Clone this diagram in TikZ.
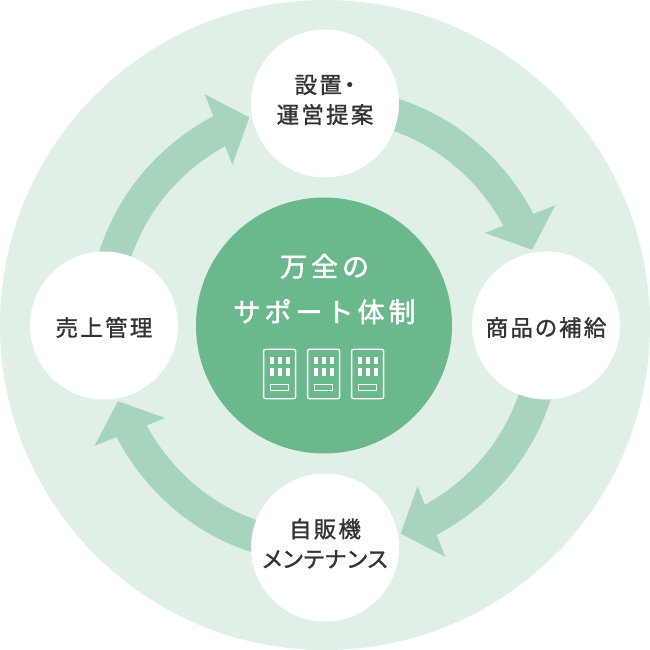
\documentclass[tikz,border=0pt]{standalone}
\usepackage{fontspec}
\setmainfont{Noto Sans CJK JP}
\usetikzlibrary{arrows.meta, bending, positioning, backgrounds}
\definecolor{discgreen}{HTML}{E1F0E7}
\definecolor{flowgreen}{HTML}{A6D4BC}
\definecolor{hubgreen}{HTML}{6BB88D}
\definecolor{inkgray}{HTML}{333333}
\newfontfamily\stationfont[LetterSpace=10,FakeBold=1.2,RawFeature=+palt]{Noto Sans CJK JP}
\newfontfamily\kanafont[LetterSpace=3.5,FakeBold=1.2,RawFeature=+palt]{Noto Sans CJK JP}
\newfontfamily\hubfont[LetterSpace=15,FakeBold=1.8]{Noto Sans CJK JP}

\begin{document}
\begin{tikzpicture}[node distance=20pt,
                disc/.style={circle, fill=discgreen, inner sep=0pt, outer sep=0pt, minimum size=650pt},
                hub/.style={circle, fill=hubgreen, inner sep=0pt, outer sep=0pt, minimum size=256pt},
                station/.style={circle, fill=white, inner sep=0pt, outer sep=0pt, minimum size=148pt,
                                align=center, text=inkgray, font=\fontsize{22.5}{30}\stationfont},
                one line/.style={text height=23pt},
                two lines/.style={text depth=9pt},
                hubtext/.style={align=center, text=white, inner sep=0pt, font=\fontsize{27}{45.5}\hubfont},
                flow/.style={line width=32pt, draw=flowgreen, -{Triangle[length=33pt, width=74pt, flex=.2]},
                             shorten >=3pt, looseness=.96},
                machine/.style={draw=white, line width=1.3pt, rounded corners=2pt,
                                inner sep=0pt, minimum width=32pt, minimum height=49.5pt},
                machine key/.style={fill=white},
                machine slot/.style={draw=white, line width=1.2pt}]
                \path[use as bounding box] (-325pt,-325pt) rectangle (325pt,325pt);

                % Centre - the stations hang off it
                \node[hub] (hub) at (-1pt,-.5pt) {};
                \node[station, two lines, above=of hub, xshift=1pt] (setup) {設置・\\運営提案};
                \node[station, one line, right=of hub] (refill) {商品の補給};
                \node[station, two lines, below=of hub, xshift=1pt] (maint) {自販機\\{\kanafont メンテナンス}};
                \node[station, one line, left=18pt of hub] (sales) {売上管理};

                \node[hubtext] (title) at (-.5pt,36pt) {万全の\\サポート体制};

                % Vending machines
                \node[machine] (machine2) at (-1.4pt,-49pt) {};
                \node[machine, left=10.7pt of machine2] (machine1) {};
                \node[machine, right=10.7pt of machine2] (machine3) {};
                \foreach \m in {machine1, machine2, machine3} {
                    \foreach \x in {-8, 0, 8} {
                        \fill[machine key] ([shift={(\x pt-1.9pt,10pt)}]\m.center) rectangle ++(3.8pt,7.3pt);
                        \fill[machine key] ([shift={(\x pt-1.9pt,-1.7pt)}]\m.center) rectangle ++(3.8pt,7.3pt);
                    }
                    \draw[machine slot] ([shift={(-8.8pt,-16.4pt)}]\m.center) rectangle ++(17.6pt,5.5pt);
                }

                \begin{scope}[on background layer]
                    \fill[white] (-325pt,-325pt) rectangle (325pt,325pt);
                    \node[disc] (ring) {};
                    % Arrows - centre of one station to the rim of the next
                    \foreach \from/\to/\leave/\enter/\rim in {setup/refill/0/110/100,
                                                              refill/maint/-90/20/10,
                                                              maint/sales/180/-70/-80,
                                                              sales/setup/90/200/190} {
                        \draw[flow] (\from.center) to[out=\leave, in=\enter] (\to.\rim);
                    }
                \end{scope}
            \end{tikzpicture}
\end{document}
